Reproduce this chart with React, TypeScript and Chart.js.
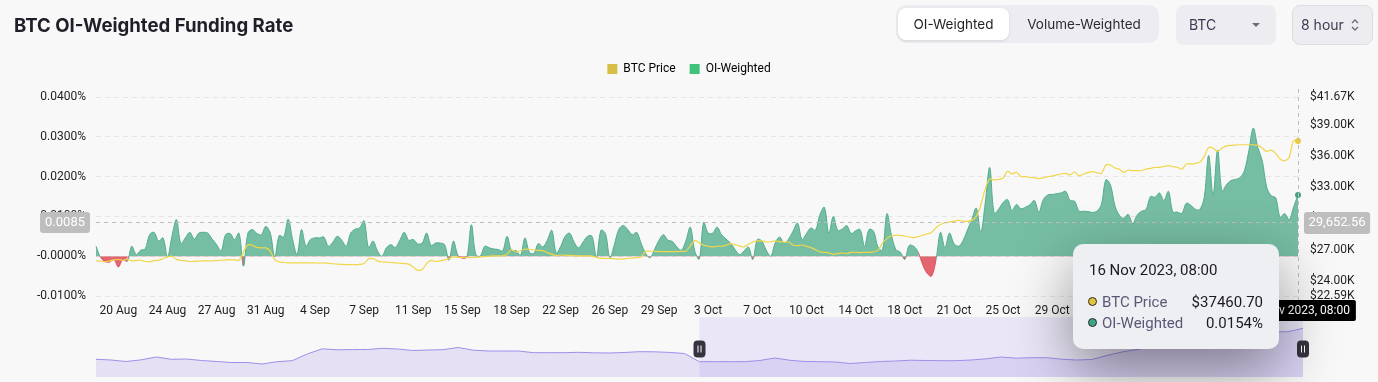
import React, { useEffect, useRef } from 'react';
import { Chart, registerables } from 'chart.js';

Chart.register(...registerables);

// ---------- data ----------
const START_UTC = Date.UTC(2023, 7, 18, 16, 0); // first 8h funding interval shown
const STEP_HOURS = 8;
const MONTHS = ['Jan', 'Feb', 'Mar', 'Apr', 'May', 'Jun', 'Jul', 'Aug', 'Sep', 'Oct', 'Nov', 'Dec'];

// OI-weighted funding rate, in percent
const oiWeighted: number[] = [
  0.0025, -0.0003, -0.0013, -0.0015, -0.0008, -0.0027, -0.0008, -0.0013, 0.0025, 0.0004,
  0.0015, 0.0018, 0.0054, 0.006, 0.0038, 0.0046, -0.0002, 0.005, 0.0092, 0.0032,
  0.0046, 0.006, 0.0043, 0.0058, 0.006, 0.0058, 0.0043, 0.0029, 0.0013, 0.0054,
  0.0057, 0.0042, 0.0058, -0.0025, 0.0058, 0.0067, 0.0057, 0.0054, 0.0075, 0.0058,
  -0.0002, 0.0052, 0.0048, 0.0093, 0.0042, 0.0004, 0.0067, 0.0025, 0.0042, 0.0046,
  0.0046, 0.0048, 0.0025, 0.0035, 0.005, 0.004, 0.0025, 0.0058, 0.0068, 0.0071,
  0.0089, 0.0021, 0.0038, 0.0013, 0.0, 0.0021, 0.0029, 0.0022, 0.004, 0.006,
  0.004, 0.0042, 0.0031, 0.0033, 0.0058, 0.0027, 0.0033, 0.0033, 0.0029, -0.001,
  0.0038, 0.0002, -0.0005, -0.0002, 0.0079, 0.0004, 0.0, 0.0025, 0.0021, 0.0018,
  0.0017, 0.0013, 0.005, 0.0013, 0.0014, 0.0002, 0.0046, 0.001, 0.0007, 0.0032,
  0.0023, 0.004, 0.0065, 0.0008, 0.0025, 0.005, 0.0058, 0.0035, 0.0021, 0.0035,
  0.005, 0.005, -0.0003, 0.0065, 0.0057, -0.0004, 0.0029, 0.0067, 0.0077, 0.0067,
  0.0054, 0.006, 0.0032, 0.0007, -0.0004, 0.0017, 0.004, 0.0054, 0.004, 0.0037,
  0.0023, 0.0015, 0.0038, 0.0073, 0.0013, -0.0007, 0.0085, 0.0058, 0.0058, 0.0073,
  0.0054, 0.0043, 0.0033, 0.0017, 0.0004, 0.0013, 0.0023, -0.0008, 0.0042, 0.0038,
  0.0015, 0.0, 0.0033, 0.0048, 0.0032, 0.0043, 0.0063, 0.0083, 0.0042, 0.0057,
  0.0071, 0.0065, 0.0104, 0.0123, 0.0058, 0.01, 0.0065, 0.0068, 0.0077, 0.0057,
  0.0064, 0.0067, 0.0025, 0.0067, 0.0063, 0.0023, 0.0015, 0.0107, 0.0054, 0.0017,
  0.001, -0.0008, 0.0027, 0.0025, 0.001, -0.0021, -0.0043, -0.005, -0.0008, 0.006,
  0.0021, 0.0058, 0.0032, 0.0025, 0.0038, 0.0065, 0.0092, 0.0121, 0.006, 0.0133,
  0.0223, 0.0108, 0.0118, 0.0135, 0.0142, 0.0115, 0.013, 0.0119, 0.0123, 0.0129,
  0.014, 0.0111, 0.0142, 0.0154, 0.0155, 0.0157, 0.0159, 0.0163, 0.014, 0.0138,
  0.0113, 0.0113, 0.0112, 0.011, 0.0113, 0.013, 0.0192, 0.018, 0.0128, 0.0103,
  0.0095, 0.0105, 0.0082, 0.0103, 0.0113, 0.0117, 0.015, 0.0148, 0.0159, 0.014,
  0.0163, 0.0111, 0.0111, 0.0107, 0.0133, 0.0128, 0.0118, 0.0117, 0.0147, 0.0253,
  0.0153, 0.0267, 0.0163, 0.018, 0.019, 0.0193, 0.0197, 0.0215, 0.0265, 0.0322,
  0.0273, 0.024, 0.0173, 0.0152, 0.0147, 0.0098, 0.0107, 0.0092, 0.0123, 0.0154,
];

// BTC price, USD
const btcPrice: number[] = [
  25960, 25930, 25860, 25960, 26050, 26090, 26020, 26120, 25960, 25990,
  26020, 25900, 25870, 25980, 26020, 26180, 26340, 26400, 26100, 26020,
  25960, 25900, 25910, 25940, 25960, 25960, 25960, 25990, 26020, 26060,
  26080, 26050, 26020, 26800, 27500, 27450, 27250, 27200, 27200, 26900,
  26050, 25860, 25800, 25770, 25770, 25770, 25770, 25770, 25770, 25760,
  25750, 25760, 25720, 25680, 25650, 25620, 25600, 25590, 25590, 25620,
  25700, 26150, 26180, 25960, 25850, 25830, 25800, 25765, 25730, 25700,
  25650, 25350, 25070, 25130, 25700, 26000, 25900, 25950, 26050, 26180,
  26340, 26300, 26280, 26280, 26280, 26300, 26340, 26370, 26400, 26430,
  26430, 26440, 26600, 27070, 26800, 26950, 27070, 27070, 27000, 26970,
  26940, 26750, 26600, 26470, 26520, 26500, 26480, 26460, 26440, 26430,
  26430, 26420, 26300, 26200, 26200, 26200, 26150, 26120, 26150, 26190,
  26230, 26270, 26340, 26870, 26880, 26880, 26850, 26850, 26850, 26850,
  26850, 26870, 26880, 27400, 27900, 27700, 27450, 27360, 27290, 27360,
  27360, 27450, 27610, 27520, 27390, 27290, 27550, 27770, 27870, 27870,
  27770, 27800, 27870, 27800, 27770, 27770, 27480, 27420, 27480, 27360,
  27230, 27040, 26820, 26780, 26720, 26590, 26660, 26720, 26660, 26780,
  26780, 26750, 26780, 26780, 26820, 26970, 27670, 28090, 28370, 28410,
  28410, 28340, 28250, 28180, 28280, 28410, 28560, 28690, 29140, 29450,
  29610, 29680, 29770, 29840, 29770, 29740, 29840, 30220, 31270, 32860,
  33810, 33720, 33780, 33910, 34550, 34290, 34450, 34040, 34040, 33970,
  33910, 33850, 33910, 34040, 34100, 34200, 34290, 34350, 34200, 34480,
  34130, 34290, 34420, 34510, 34420, 34350, 35150, 35150, 34860, 34740,
  34450, 34670, 34610, 34610, 34610, 34770, 34830, 34930, 34930, 35020,
  35090, 34990, 34930, 34740, 35250, 35250, 35310, 35410, 35950, 36840,
  36770, 36450, 36770, 36990, 37030, 37060, 37090, 37090, 37090, 37090,
  37030, 36770, 36450, 36580, 36260, 35720, 35560, 35880, 37470, 37460.7,
];

// overview (data zoom) series
const navPrice: number[] = [
  24425, 24250, 23875, 24300, 25000, 24425, 24500, 24125, 23875, 23625,
  23625, 23250, 23825, 24075, 25750, 27050, 26800, 26850, 26875, 27175,
  27000, 26625, 26750, 26825, 27375, 26700, 26500, 26500, 26500, 26075,
  26075, 26075, 26175, 26050, 26000, 26125, 26325, 26300, 26150, 25875,
  23825, 23825, 23825, 23825, 24125, 24750, 24175, 23875, 23825, 23750,
  23375, 23625, 23875, 24000, 24200, 24125, 24075, 24075, 24250, 24550,
  25000, 24700, 24825, 24825, 24450, 24250, 24375, 25375, 26250, 26875,
  27500, 27875, 28125, 28375, 28750, 29375, 30000, 30500, 31250, 31325,
  32175,
];
const NAV_WINDOW = [40, 80];
const NAV_MIN = 20000;
const NAV_MAX = 35000;

const RATE_MIN = -0.01;
const RATE_MAX = 0.04;
const RATE_STEP = 0.01;
const PRICE_MIN = 22590;
const PRICE_MAX = 41670;
const PRICE_TICKS = [22590, 24000, 27000, 30000, 33000, 36000, 39000, 41670];

const LABEL_EVERY = 11;
const LABEL_OFFSET = 5;

const CROSS_RATE = 0.0085;
const CROSS_PRICE = 29652.56;

const dates = oiWeighted.map((_, i) => new Date(START_UTC + i * STEP_HOURS * 3600000));
const xLabels = dates.map((d) => `${d.getUTCDate()} ${MONTHS[d.getUTCMonth()]}`);
const pad2 = (n: number) => String(n).padStart(2, '0');
const fullLabels = dates.map(
  (d) => `${d.getUTCDate()} ${MONTHS[d.getUTCMonth()]} ${d.getUTCFullYear()}, ${pad2(d.getUTCHours())}:${pad2(d.getUTCMinutes())}`
);
const LAST = oiWeighted.length - 1;

// ---------- styles ----------
const FONT = 'Roboto, "Noto Sans", sans-serif';
const UI_FONT = 'Inter, "Noto Sans", sans-serif';
const GREEN_FILL = '#76BEA3';
const GREEN_LINE = '#4FAD8B';
const RED_FILL = '#E2656F';
const RED_LINE = '#DE4F5B';
const YELLOW = '#F1D64A';

const fmtRate = (v: number) => (Math.abs(v) < 1e-12 ? '-0.0000' : v.toFixed(4)) + '%';
const fmtPriceK = (v: number) => '$' + (v / 1000).toFixed(2) + 'K';

function rr(ctx: CanvasRenderingContext2D, x: number, y: number, w: number, h: number, r: number) {
  ctx.beginPath();
  ctx.moveTo(x + r, y);
  ctx.lineTo(x + w - r, y);
  ctx.quadraticCurveTo(x + w, y, x + w, y + r);
  ctx.lineTo(x + w, y + h - r);
  ctx.quadraticCurveTo(x + w, y + h, x + w - r, y + h);
  ctx.lineTo(x + r, y + h);
  ctx.quadraticCurveTo(x, y + h, x, y + h - r);
  ctx.lineTo(x, y + r);
  ctx.quadraticCurveTo(x, y, x + r, y);
  ctx.closePath();
}

const legendGapPlugin = {
  id: 'legendGap',
  afterInit(chart: any) {
    const lg = chart.legend;
    if (!lg) return;
    const orig = lg.fit.bind(lg);
    lg.fit = function () {
      orig();
      this.height += 12;
    };
  },
};

const crosshairPlugin = {
  id: 'crosshair',
  afterDraw(chart: any) {
    const { ctx, chartArea, scales } = chart;
    const px = Math.round(scales.x.getPixelForValue(LAST)) + 0.5;
    const py = Math.round(scales.yRate.getPixelForValue(CROSS_RATE)) + 0.5;
    ctx.save();
    ctx.strokeStyle = '#BDBDBD';
    ctx.lineWidth = 1;
    ctx.setLineDash([4, 4]);
    ctx.beginPath();
    ctx.moveTo(chartArea.left, py);
    ctx.lineTo(chartArea.right, py);
    ctx.stroke();
    ctx.beginPath();
    ctx.moveTo(px, chartArea.top - 8);
    ctx.lineTo(px, chartArea.bottom + 4);
    ctx.stroke();
    ctx.setLineDash([]);

    // axis pointer labels
    ctx.font = `13px ${FONT}`;
    ctx.textBaseline = 'middle';
    ctx.textAlign = 'center';
    const lt = CROSS_RATE.toFixed(4);
    const lw = ctx.measureText(lt).width + 10;
    ctx.fillStyle = '#BEBEBE';
    rr(ctx, chartArea.left - 6 - lw, py - 10.5, lw, 21, 3);
    ctx.fill();
    ctx.fillStyle = '#FFFFFF';
    ctx.fillText(lt, chartArea.left - 6 - lw / 2, py + 0.5);

    const rt = CROSS_PRICE.toLocaleString('en-US', { minimumFractionDigits: 2, maximumFractionDigits: 2 });
    const rw = ctx.measureText(rt).width + 9;
    ctx.fillStyle = '#BEBEBE';
    rr(ctx, chartArea.right + 6, py - 10.5, rw, 22, 3);
    ctx.fill();
    ctx.fillStyle = '#FFFFFF';
    ctx.fillText(rt, chartArea.right + 6 + rw / 2, py + 0.5);

    ctx.font = `12px ${FONT}`;
    const bt = fullLabels[LAST];
    const bw = ctx.measureText(bt).width + 12;
    ctx.fillStyle = '#000000';
    rr(ctx, px - bw / 2, chartArea.bottom + 4, bw, 21, 2);
    ctx.fill();
    ctx.fillStyle = '#FFFFFF';
    ctx.fillText(bt, px, chartArea.bottom + 14.5);
    ctx.restore();
  },
};

const navWindowPlugin = {
  id: 'navWindow',
  beforeDatasetsDraw(chart: any) {
    const { ctx, chartArea, scales } = chart;
    const x0 = scales.x.getPixelForValue(NAV_WINDOW[0]);
    const x1 = scales.x.getPixelForValue(NAV_WINDOW[1]);
    ctx.save();
    ctx.fillStyle = 'rgba(150,120,240,0.14)';
    ctx.fillRect(x0, chartArea.top, x1 - x0, chartArea.bottom - chartArea.top);
    ctx.restore();
  },
  afterDraw(chart: any) {
    const { ctx, chartArea, scales } = chart;
    const cy = (chartArea.top + chartArea.bottom) / 2 + 2;
    NAV_WINDOW.forEach((idx) => {
      const cx = scales.x.getPixelForValue(idx);
      ctx.save();
      ctx.fillStyle = '#36323F';
      rr(ctx, cx - 6, cy - 8.5, 12, 17, 4);
      ctx.fill();
      ctx.strokeStyle = '#FFFFFF';
      ctx.lineWidth = 1;
      ctx.beginPath();
      ctx.moveTo(cx - 1.5, cy - 3.5);
      ctx.lineTo(cx - 1.5, cy + 3.5);
      ctx.moveTo(cx + 1.5, cy - 3.5);
      ctx.lineTo(cx + 1.5, cy + 3.5);
      ctx.stroke();
      ctx.restore();
    });
  },
};

export default function App() {
  const mainRef = useRef<HTMLCanvasElement>(null);
  const navRef = useRef<HTMLCanvasElement>(null);

  useEffect(() => {
    if (!mainRef.current || !navRef.current) return;
    const tickFont = { family: FONT, size: 12 };
    const main = new Chart(mainRef.current, {
      type: 'line',
      data: {
        labels: xLabels,
        datasets: [
          {
            label: 'BTC Price',
            data: btcPrice,
            yAxisID: 'yPrice',
            borderColor: YELLOW,
            borderWidth: 1.2,
            tension: 0.3,
            fill: false,
            pointRadius: (c: any) => (c.dataIndex === LAST ? 3 : 0),
            pointBackgroundColor: '#E8CB3C',
            pointBorderWidth: 0,
          },
          {
            label: 'OI-Weighted',
            data: oiWeighted,
            yAxisID: 'yRate',
            borderColor: GREEN_LINE,
            borderWidth: 1,
            tension: 0.35,
            fill: { target: 'origin', above: GREEN_FILL, below: RED_FILL },
            segment: {
              borderColor: (c: any) => (c.p0.parsed.y + c.p1.parsed.y < 0 ? RED_LINE : GREEN_LINE),
            },
            pointRadius: (c: any) => (c.dataIndex === LAST ? 3 : 0),
            pointBackgroundColor: '#3FA380',
            pointBorderWidth: 0,
          },
        ],
      },
      options: {
        animation: false,
        responsive: false,
        events: [],
        layout: { padding: { top: 49, left: 0, right: 0, bottom: 0 } },
        plugins: {
          tooltip: { enabled: false },
          legend: {
            position: 'top',
            align: 'center',
            labels: {
              boxWidth: 10,
              boxHeight: 10,
              padding: 14,
              color: '#555555',
              font: { family: FONT, size: 12 },
              generateLabels: () => [
                { text: 'BTC Price', fillStyle: '#D7BE44', strokeStyle: '#D7BE44', lineWidth: 0, hidden: false, datasetIndex: 0 },
                { text: 'OI-Weighted', fillStyle: '#41C27B', strokeStyle: '#41C27B', lineWidth: 0, hidden: false, datasetIndex: 1 },
              ],
            },
          },
        },
        scales: {
          x: {
            type: 'category',
            offset: false,
            grid: { display: false, drawTicks: false },
            border: { display: false },
            ticks: {
              autoSkip: false,
              maxRotation: 0,
              minRotation: 0,
              padding: 8,
              color: '#1E1E1E',
              font: tickFont,
              callback: (_v: any, i: number) =>
                i >= LABEL_OFFSET && (i - LABEL_OFFSET) % LABEL_EVERY === 0 ? xLabels[i] : null,
            },
            afterFit: (s: any) => {
              s.height = 86;
            },
          },
          yRate: {
            position: 'left',
            min: RATE_MIN,
            max: RATE_MAX,
            grid: { color: '#E5E5E5', drawTicks: false },
            border: { display: false, dash: [5, 4] },
            ticks: {
              stepSize: RATE_STEP,
              padding: 10,
              color: '#1E1E1E',
              font: tickFont,
              callback: (v: any) => fmtRate(Number(v)),
            },
            afterFit: (s: any) => {
              s.width = 96;
            },
          },
          yPrice: {
            position: 'right',
            min: PRICE_MIN,
            max: PRICE_MAX,
            grid: { drawOnChartArea: false, drawTicks: false },
            border: { display: false },
            afterBuildTicks: (s: any) => {
              s.ticks = PRICE_TICKS.map((v) => ({ value: v }));
            },
            ticks: {
              autoSkip: false,
              padding: 12,
              color: '#1E1E1E',
              font: tickFont,
              callback: (v: any) => fmtPriceK(Number(v)),
            },
            afterFit: (s: any) => {
              s.width = 80;
            },
          },
        },
      } as any,
      plugins: [legendGapPlugin, crosshairPlugin],
    });

    const nav = new Chart(navRef.current, {
      type: 'line',
      data: {
        labels: navPrice.map((_, i) => String(i)),
        datasets: [
          {
            data: navPrice,
            borderColor: '#9C8FE8',
            borderWidth: 1,
            pointRadius: 0,
            tension: 0,
            fill: 'start',
            backgroundColor: 'rgba(170,150,235,0.24)',
          },
        ],
      },
      options: {
        animation: false,
        responsive: false,
        events: [],
        layout: { padding: { left: 8, right: 15, top: 3, bottom: 5 } },
        plugins: { legend: { display: false }, tooltip: { enabled: false } },
        scales: {
          x: { display: false, offset: false },
          y: { display: false, min: NAV_MIN, max: NAV_MAX },
        },
      } as any,
      plugins: [navWindowPlugin],
    });

    return () => {
      main.destroy();
      nav.destroy();
    };
  }, []);

  const btnText: React.CSSProperties = { fontFamily: UI_FONT, fontSize: 13.5, color: '#1F1F24' };
  const selText: React.CSSProperties = { fontFamily: UI_FONT, fontSize: 14, color: '#3E3A52' };

  return (
    <div
      style={{
        position: 'absolute',
        left: 0,
        top: 0,
        width: 1378,
        height: 382,
        background: '#F8F8F8',
        overflow: 'hidden',
      }}
    >
      <canvas ref={navRef} width={1230} height={68} style={{ position: 'absolute', left: 88, top: 314, width: 1230, height: 68 }} />
      <canvas ref={mainRef} width={1378} height={382} style={{ position: 'absolute', left: 0, top: 0, width: 1378, height: 382 }} />

      <div
        style={{
          position: 'absolute',
          left: 14,
          top: 14,
          lineHeight: '22px',
          fontFamily: UI_FONT,
          fontWeight: 700,
          fontSize: 18.6,
          color: '#1F1F29',
          whiteSpace: 'nowrap',
        }}
      >
        BTC OI-Weighted Funding Rate
      </div>

      <div style={{ position: 'absolute', left: 896, top: 5, width: 263, height: 38, background: '#EDEDF1', borderRadius: 10 }}>
        <div
          style={{
            position: 'absolute',
            left: 2,
            top: 3,
            width: 111,
            height: 32,
            background: '#FFFFFF',
            borderRadius: 8,
            boxShadow: '0 1px 3px rgba(0,0,0,0.10)',
            textAlign: 'center',
            lineHeight: '32px',
            ...btnText,
          }}
        >
          OI-Weighted
        </div>
        <div style={{ position: 'absolute', left: 113, top: 0, width: 150, height: 38, textAlign: 'center', lineHeight: '38px', ...btnText, color: '#2B2B33' }}>
          Volume-Weighted
        </div>
      </div>

      <div style={{ position: 'absolute', left: 1176, top: 5, width: 100, height: 40, background: '#EDEDF1', borderRadius: 8 }}>
        <div style={{ position: 'absolute', left: 13, top: 0, lineHeight: '40px', ...selText }}>BTC</div>
        <div
          style={{
            position: 'absolute',
            left: 76,
            top: 18,
            width: 0,
            height: 0,
            borderLeft: '4px solid transparent',
            borderRight: '4px solid transparent',
            borderTop: '4px solid #6E6B7B',
          }}
        />
      </div>

      <div
        style={{
          position: 'absolute',
          left: 1292,
          top: 5,
          width: 81,
          height: 40,
          boxSizing: 'border-box',
          background: '#EDEDF1',
          border: '1px solid #DCDCE2',
          borderRadius: 8,
        }}
      >
        <div style={{ position: 'absolute', left: 8, top: 0, lineHeight: '38px', ...selText }}>8 hour</div>
        <svg width="10" height="16" viewBox="0 0 10 16" style={{ position: 'absolute', left: 57, top: 11 }}>
          <path d="M2 6 L5 3 L8 6" fill="none" stroke="#6E6B7B" strokeWidth="1.4" />
          <path d="M2 10 L5 13 L8 10" fill="none" stroke="#6E6B7B" strokeWidth="1.4" />
        </svg>
      </div>

      <div
        style={{
          position: 'absolute',
          left: 1073,
          top: 244,
          width: 206,
          height: 105,
          background: '#EEEFF3',
          borderRadius: 10,
          boxShadow: '0 22px 60px rgba(0,0,0,0.42)',
          fontFamily: FONT,
        }}
      >
        <div style={{ position: 'absolute', left: 16, top: 16, lineHeight: '20px', fontSize: 15, color: '#1B1B1F', whiteSpace: 'nowrap' }}>
          {fullLabels[LAST]}
        </div>
        {[
          { name: 'BTC Price', color: '#E2C53A', value: '$' + btcPrice[LAST].toFixed(2), top: 48 },
          { name: 'OI-Weighted', color: '#3DA583', value: oiWeighted[LAST].toFixed(4) + '%', top: 69 },
        ].map((r) => (
          <div key={r.name} style={{ position: 'absolute', left: 0, top: r.top, width: 206, height: 20 }}>
            <div
              style={{
                position: 'absolute',
                left: 15,
                top: 5,
                width: 9,
                height: 9,
                boxSizing: 'border-box',
                borderRadius: '50%',
                background: r.color,
                border: '1.5px solid #2A2A2E',
              }}
            />
            <div style={{ position: 'absolute', left: 29, top: 0, lineHeight: '20px', fontSize: 15, color: '#5B5776', whiteSpace: 'nowrap' }}>
              {r.name}
            </div>
            <div style={{ position: 'absolute', right: 16, top: 0, lineHeight: '20px', fontSize: 15, color: '#1B1B1F', whiteSpace: 'nowrap' }}>
              {r.value}
            </div>
          </div>
        ))}
      </div>
    </div>
  );
}
